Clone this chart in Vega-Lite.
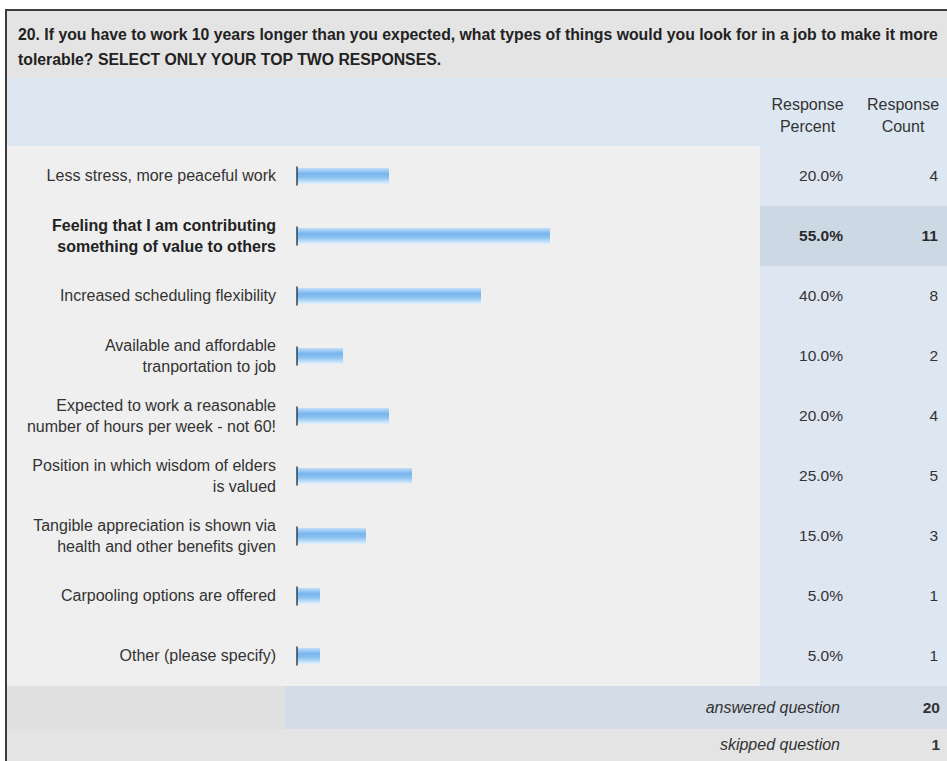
{
  "$schema": "https://vega.github.io/schema/vega-lite/v6.json",
  "padding": {"left": 5, "top": 9, "right": 0, "bottom": 0},
  "bounds": "flush",
  "background": "#ffffff",
  "config": {
    "view": {"stroke": null},
    "concat": {"spacing": 0},
    "font": "Liberation Sans",
    "text": {"font": "Liberation Sans", "color": "#333333", "fontSize": 16}
  },
  "datasets": {
    "title": [{"text": "20. If you have to work 10 years longer than you expected, what types of things would you look for in a job to make it more\ntolerable? SELECT ONLY YOUR TOP TWO RESPONSES."}],
    "pctHeader": [{"text": "Response\nPercent"}],
    "countHeader": [{"text": "Response\nCount"}],
    "blank": [{"text": ""}],
    "items": [
      {"label": "Less stress, more peaceful work", "pct": 0.20, "count": 4, "highlight": false},
      {"label": "Feeling that I am contributing\nsomething of value to others", "pct": 0.55, "count": 11, "highlight": true},
      {"label": "Increased scheduling flexibility", "pct": 0.40, "count": 8, "highlight": false},
      {"label": "Available and affordable\ntranportation to job", "pct": 0.10, "count": 2, "highlight": false},
      {"label": "Expected to work a reasonable\nnumber of hours per week - not 60!", "pct": 0.20, "count": 4, "highlight": false},
      {"label": "Position in which wisdom of elders\nis valued", "pct": 0.25, "count": 5, "highlight": false},
      {"label": "Tangible appreciation is shown via\nhealth and other benefits given", "pct": 0.15, "count": 3, "highlight": false},
      {"label": "Carpooling options are offered", "pct": 0.05, "count": 1, "highlight": false},
      {"label": "Other (please specify)", "pct": 0.05, "count": 1, "highlight": false}
    ],
    "answered": [{"label": "answered question", "value": 20}],
    "skipped": [{"label": "skipped question", "value": 1}]
  },
  "hconcat": [
    {
      "width": 2, "height": 752,
      "data": {"name": "blank"},
      "mark": {"type": "rect", "color": "#3c3c3c"},
      "encoding": {}
    },
    {
      "vconcat": [
        {
          "width": 940, "height": 2,
          "data": {"name": "blank"},
          "mark": {"type": "rect", "color": "#3c3c3c"},
          "encoding": {}
        },
        {
          "width": 940, "height": 67,
          "view": {"fill": "#e4e4e4"},
          "data": {"name": "title"},
          "mark": {"type": "text", "align": "left", "baseline": "middle", "lineBreak": "\n", "fontWeight": "bold", "fontSize": 15.8, "lineHeight": 25, "dx": 11, "dy": 24, "color": "#222222"},
          "encoding": {"x": {"value": 0}, "y": {"value": 0}, "text": {"field": "text"}}
        },
        {
          "hconcat": [
            {
              "width": 753, "height": 68,
              "data": {"name": "blank"},
              "mark": {"type": "rect", "color": "#dde7f2"},
              "encoding": {}
            },
            {
              "width": 105, "height": 68,
              "view": {"fill": "#dde7f2"},
              "data": {"name": "pctHeader"},
              "mark": {"type": "text", "align": "center", "baseline": "middle", "lineBreak": "\n", "lineHeight": 22, "fontSize": 16, "dx": -5, "dy": -7},
              "encoding": {"text": {"field": "text"}}
            },
            {
              "width": 82, "height": 68,
              "view": {"fill": "#dde7f2"},
              "data": {"name": "countHeader"},
              "mark": {"type": "text", "align": "center", "baseline": "middle", "lineBreak": "\n", "lineHeight": 22, "fontSize": 16, "dx": -3, "dy": -7},
              "encoding": {"text": {"field": "text"}}
            }
          ]
        },
        {
          "data": {"name": "items"},
          "hconcat": [
            {
              "width": 278, "height": 540,
              "view": {"fill": "#efefef"},
              "encoding": {
                "y": {"field": "label", "type": "nominal", "sort": null, "axis": null, "scale": {"paddingInner": 0, "paddingOuter": 0}},
                "x": {"value": "width"}
              },
              "layer": [
                {
                  "mark": {"type": "text", "align": "right", "baseline": "middle", "lineBreak": "\n", "lineHeight": 21, "dx": -9},
                  "encoding": {
                    "text": {"condition": {"test": "datum.highlight || indexof(datum.label, '\\n') >= 0", "value": ""}, "field": "label"}
                  }
                },
                {
                  "mark": {"type": "text", "align": "right", "baseline": "middle", "lineBreak": "\n", "lineHeight": 21, "dx": -9, "dy": -10.5},
                  "encoding": {
                    "text": {"condition": {"test": "!datum.highlight && indexof(datum.label, '\\n') >= 0", "field": "label"}, "value": ""}
                  }
                },
                {
                  "mark": {"type": "text", "align": "right", "baseline": "middle", "lineBreak": "\n", "lineHeight": 21, "dx": -9, "dy": -10.5, "fontWeight": "bold", "color": "#222222"},
                  "encoding": {
                    "text": {"condition": {"test": "datum.highlight", "field": "label"}, "value": ""}
                  }
                }
              ]
            },
            {
              "width": 475, "height": 540,
              "view": {"fill": "#efefef"},
              "encoding": {
                "y": {"field": "label", "type": "nominal", "sort": null, "axis": null, "scale": {"paddingInner": 0, "paddingOuter": 0}}
              },
              "layer": [
                {
                  "mark": {
                    "type": "bar", "size": 16,
                    "color": {"gradient": "linear", "x1": 0, "y1": 0, "x2": 0, "y2": 1,
                      "stops": [
                        {"offset": 0, "color": "#c4e0f8"},
                        {"offset": 0.35, "color": "#78b4ee"},
                        {"offset": 0.6, "color": "#8cc2f1"},
                        {"offset": 1, "color": "#e2f1fd"}
                      ]}
                  },
                  "encoding": {
                    "x": {"field": "pct", "type": "quantitative", "axis": null, "scale": {"domain": [0, 1], "range": [12, 472]}}
                  }
                },
                {
                  "mark": {"type": "tick", "orient": "vertical", "thickness": 2, "size": 19, "color": "#22364d"},
                  "encoding": {
                    "x": {"datum": 0, "type": "quantitative"}
                  }
                }
              ]
            },
            {
              "width": 105, "height": 540,
              "encoding": {
                "y": {"field": "label", "type": "nominal", "sort": null, "axis": null, "scale": {"paddingInner": 0, "paddingOuter": 0}},
                "x": {"value": "width"}
              },
              "layer": [
                {
                  "mark": {"type": "rect"},
                  "encoding": {
                    "x": {"value": 0},
                    "x2": {"value": "width"},
                    "color": {"condition": {"test": "datum.highlight", "value": "#cdd8e5"}, "value": "#dde6f1"}
                  }
                },
                {
                  "mark": {"type": "text", "align": "right", "baseline": "middle", "fontSize": 15.5, "dx": -22},
                  "encoding": {
                    "text": {"condition": {"test": "datum.highlight", "value": ""}, "field": "pct", "type": "quantitative", "format": ".1%"}
                  }
                },
                {
                  "mark": {"type": "text", "align": "right", "baseline": "middle", "fontSize": 15.5, "dx": -22, "fontWeight": "bold", "color": "#2a2a2a"},
                  "encoding": {
                    "text": {"condition": {"test": "datum.highlight", "field": "pct", "type": "quantitative", "format": ".1%"}, "value": ""}
                  }
                }
              ]
            },
            {
              "width": 82, "height": 540,
              "encoding": {
                "y": {"field": "label", "type": "nominal", "sort": null, "axis": null, "scale": {"paddingInner": 0, "paddingOuter": 0}},
                "x": {"value": "width"}
              },
              "layer": [
                {
                  "mark": {"type": "rect"},
                  "encoding": {
                    "x": {"value": 0},
                    "x2": {"value": "width"},
                    "color": {"condition": {"test": "datum.highlight", "value": "#cdd8e5"}, "value": "#dde6f1"}
                  }
                },
                {
                  "mark": {"type": "text", "align": "right", "baseline": "middle", "fontSize": 15.5, "dx": -9},
                  "encoding": {
                    "text": {"condition": {"test": "datum.highlight", "value": ""}, "field": "count", "type": "quantitative"}
                  }
                },
                {
                  "mark": {"type": "text", "align": "right", "baseline": "middle", "fontSize": 15.5, "dx": -9, "fontWeight": "bold", "color": "#2a2a2a"},
                  "encoding": {
                    "text": {"condition": {"test": "datum.highlight", "field": "count", "type": "quantitative"}, "value": ""}
                  }
                }
              ]
            }
          ]
        },
        {
          "hconcat": [
            {
              "width": 278, "height": 43,
              "data": {"name": "blank"},
              "mark": {"type": "rect", "color": "#e0e0e0"},
              "encoding": {}
            },
            {
              "width": 580, "height": 43,
              "view": {"fill": "#d4dce7"},
              "data": {"name": "answered"},
              "mark": {"type": "text", "align": "right", "baseline": "middle", "fontStyle": "italic", "fontSize": 16, "dx": -25},
              "encoding": {"x": {"value": "width"}, "text": {"field": "label"}}
            },
            {
              "width": 82, "height": 43,
              "view": {"fill": "#d4dce7"},
              "data": {"name": "answered"},
              "mark": {"type": "text", "align": "right", "baseline": "middle", "fontWeight": "bold", "fontSize": 15.5, "dx": -7},
              "encoding": {"x": {"value": "width"}, "text": {"field": "value", "type": "quantitative"}}
            }
          ]
        },
        {
          "hconcat": [
            {
              "width": 278, "height": 32,
              "data": {"name": "blank"},
              "mark": {"type": "rect", "color": "#e4e4e4"},
              "encoding": {}
            },
            {
              "width": 580, "height": 32,
              "view": {"fill": "#e4e4e4"},
              "data": {"name": "skipped"},
              "mark": {"type": "text", "align": "right", "baseline": "middle", "fontStyle": "italic", "fontSize": 16, "dx": -25},
              "encoding": {"x": {"value": "width"}, "text": {"field": "label"}}
            },
            {
              "width": 82, "height": 32,
              "view": {"fill": "#e4e4e4"},
              "data": {"name": "skipped"},
              "mark": {"type": "text", "align": "right", "baseline": "middle", "fontWeight": "bold", "fontSize": 15.5, "dx": -7},
              "encoding": {"x": {"value": "width"}, "text": {"field": "value", "type": "quantitative"}}
            }
          ]
        }
      ]
    }
  ]
}
